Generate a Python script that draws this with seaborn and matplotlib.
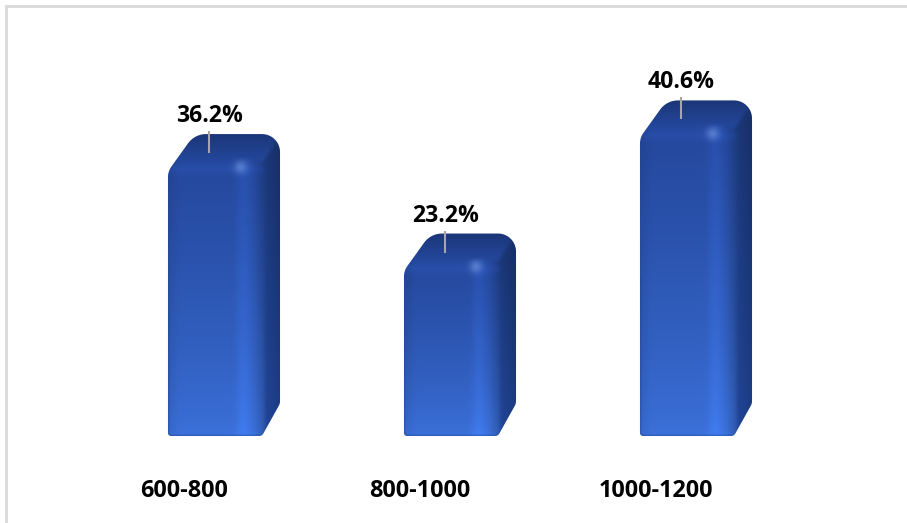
import numpy as np
import pandas as pd
import matplotlib
matplotlib.use("Agg")
import matplotlib.pyplot as plt
import seaborn as sns
from matplotlib.path import Path
from matplotlib.patches import PathPatch
from matplotlib.lines import Line2D

# ---- data ----
categories = ["600-800", "800-1000", "1000-1200"]
shares = [36.2, 23.2, 40.6]
value_labels = ["36.2%", "23.2%", "40.6%"]

# ---- layout constants (pixels) ----
W_PX, H_PX = 907, 523
PX_PER_CAT = 236.0      # horizontal pixels per category step
PX_PER_PCT = 7.65       # vertical pixels per percentage point
X0_PX = 216.0           # pixel x of the first category
BASE_PX = 436.0         # pixel y (from top) of the baseline
DX, DY = 16.0, 25.0     # depth offset of the 3D extrusion
FRONT_R = (18, 12, 5, 3)    # front face corner radii: tl, tr, br, bl
BACK_R = (22, 18, 10, 3)    # back face corner radii

sns.set_theme(style="white")
plt.rcParams["font.family"] = ["Open Sans", "DejaVu Sans"]

fig = plt.figure(figsize=(W_PX / 100, H_PX / 100), dpi=100)
fig.patch.set_facecolor("white")
ax = fig.add_axes([0, 0, 1, 1])

df = pd.DataFrame({"range": categories, "share": shares})
sns.barplot(data=df, x="range", y="share", width=0.407, color="#2a55b5", ax=ax)

XLIM = (-X0_PX / PX_PER_CAT, (W_PX - X0_PX) / PX_PER_CAT)
YLIM = ((BASE_PX - H_PX) / PX_PER_PCT, BASE_PX / PX_PER_PCT)
ax.set_xlim(*XLIM)
ax.set_ylim(*YLIM)
ax.axis("off")


def hexrgb(h):
    h = h.lstrip("#")
    return np.array([int(h[i:i + 2], 16) / 255 for i in (0, 2, 4)])


def smoothstep(a, b, x):
    t = np.clip((x - a) / (b - a), 0, 1)
    return t * t * (3 - 2 * t)


def rrect_pts(L, B, R, T, r_tl, r_tr, r_br, r_bl, n=18):
    pts = []
    for (cx, cy, r, a0) in [(R - r_tr, T - r_tr, r_tr, 0), (L + r_tl, T - r_tl, r_tl, 90),
                            (L + r_bl, B + r_bl, r_bl, 180), (R - r_br, B + r_br, r_br, 270)]:
        ang = np.radians(np.linspace(a0, a0 + 90, n))
        pts += list(zip(cx + r * np.cos(ang), cy + r * np.sin(ang)))
    return pts


def convex_hull(points):
    pts = sorted(set(points))

    def cross(o, a, b):
        return (a[0] - o[0]) * (b[1] - o[1]) - (a[1] - o[1]) * (b[0] - o[0])

    lower, upper = [], []
    for p in pts:
        while len(lower) >= 2 and cross(lower[-2], lower[-1], p) <= 0:
            lower.pop()
        lower.append(p)
    for p in reversed(pts):
        while len(upper) >= 2 and cross(upper[-2], upper[-1], p) <= 0:
            upper.pop()
        upper.append(p)
    return lower[:-1] + upper[:-1]


def in_rrect(X, Y, L, B, R, T, r_tl, r_tr, r_br, r_bl):
    inside = (X >= L) & (X <= R) & (Y >= B) & (Y <= T)
    for cx, cy, r, sx, sy in [(L + r_tl, T - r_tl, r_tl, -1, 1), (R - r_tr, T - r_tr, r_tr, 1, 1),
                              (R - r_br, B + r_br, r_br, 1, -1), (L + r_bl, B + r_bl, r_bl, -1, -1)]:
        corner = ((X - cx) * sx > 0) & ((Y - cy) * sy > 0)
        inside &= ~(corner & (np.hypot(X - cx, Y - cy) > r))
    return inside


def box_blur(img, k=1):
    out = img.copy()
    for axis in (0, 1):
        acc = np.zeros_like(out)
        for s in range(-k, k + 1):
            acc += np.roll(out, s, axis=axis)
        out = acc / (2 * k + 1)
    return out


inv = ax.transData.inverted()
front_top, front_bot = hexrgb("#24479b"), hexrgb("#3c72dc")
top_near, top_far = hexrgb("#24469a"), hexrgb("#1b3678")
side_bot, side_top = hexrgb("#22469a"), hexrgb("#1b3879")
spec_col = hexrgb("#7a9de3")

for bar in list(ax.patches):
    x0, w, h = bar.get_x(), bar.get_width(), bar.get_height()
    bar.set_visible(False)
    (L, B) = ax.transData.transform((x0, 0))
    (R, T) = ax.transData.transform((x0 + w, h))

    # silhouette: hull of the rounded front face and its shifted back face
    front = rrect_pts(L, B, R, T, *FRONT_R)
    back = rrect_pts(L + DX, B + DY, R + DX, T + DY, *BACK_R)
    hull = convex_hull(front + back)
    hull_data = inv.transform(np.array(hull))
    path = Path(np.vstack([hull_data, hull_data[:1]]), closed=True)
    clip = PathPatch(path, facecolor="none", edgecolor="none", transform=ax.transData)
    ax.add_patch(clip)

    # shading image in display pixels
    xa = np.arange(np.floor(L) - 2, np.ceil(R + DX) + 3) + 0.5
    ya = np.arange(np.floor(B) - 2, np.ceil(T + DY) + 3) + 0.5
    X, Y = np.meshgrid(xa, ya)

    t = np.clip((Y - B) / (T - B), 0, 1)[..., None]
    u = (X - L) / (R - L)
    fc = front_bot + (front_top - front_bot) * t ** 0.75
    m = (1 + 0.10 * np.exp(-((u - 0.78) / 0.07) ** 2)
         - 0.20 * smoothstep(0.86, 1.02, u)
         - 0.07 * (1 - smoothstep(0.0, 0.14, u))
         + 0.08 * np.exp(-((T - 10 - Y) / 5) ** 2))
    fc = fc * m[..., None]
    d = np.hypot(X - (R - 24), Y - (T - 8))
    a_spec = (0.6 * np.exp(-(d / 6) ** 2))[..., None]
    fc = fc + (spec_col - fc) * a_spec

    tt = np.clip((Y - T) / DY, 0, 1)[..., None]
    tc = top_near + (top_far - top_near) * tt

    v = np.clip((X - R) / DX, 0, 1)
    sc = side_bot + (side_top - side_bot) * t
    sc = sc * (1 - 0.15 * v)[..., None]

    in_front = in_rrect(X, Y, L, B, R, T, *FRONT_R)
    is_side = (X - R) * DY > (Y - T) * DX
    img = np.where(in_front[..., None], fc, np.where(is_side[..., None], sc, tc))
    img = box_blur(np.clip(img, 0, 1), 2)

    (ex0, ey0) = inv.transform((xa[0] - 0.5, ya[0] - 0.5))
    (ex1, ey1) = inv.transform((xa[-1] + 0.5, ya[-1] + 0.5))
    im = ax.imshow(img, extent=(ex0, ex1, ey0, ey1), origin="lower",
                   aspect="auto", interpolation="bilinear", zorder=3)
    im.set_clip_path(clip)

ax.set_xlim(*XLIM)
ax.set_ylim(*YLIM)

# value labels with short leader lines
for i, (val, lbl) in enumerate(zip(shares, value_labels)):
    top = val + DY / PX_PER_PCT
    lx = i - 6.7 / PX_PER_CAT
    ax.text(lx, top + 12 / PX_PER_PCT, lbl, ha="center", va="baseline",
            fontsize=16.6, fontweight="bold", color="black", zorder=5)
    ax.plot([lx, lx], [top + 3 / PX_PER_PCT, top - 19 / PX_PER_PCT],
            color="#a6a6a6", lw=1.5, zorder=4, solid_capstyle="butt")

# category labels
for i, cat in enumerate(categories):
    ax.text(i - 32 / PX_PER_CAT, (BASE_PX - 497) / PX_PER_PCT, cat, ha="center",
            va="baseline", fontsize=16.8, fontweight="bold", color="black")

# chart area frame (left and top edges)
fx, fy = 5.5 / W_PX, 1 - 5.5 / H_PX
fig.add_artist(Line2D([fx, fx], [0, fy], transform=fig.transFigure, color="#d9d9d9", lw=2))
fig.add_artist(Line2D([fx, 1], [fy, fy], transform=fig.transFigure, color="#d9d9d9", lw=2))

fig.savefig("out.png", dpi=100, facecolor="white")
